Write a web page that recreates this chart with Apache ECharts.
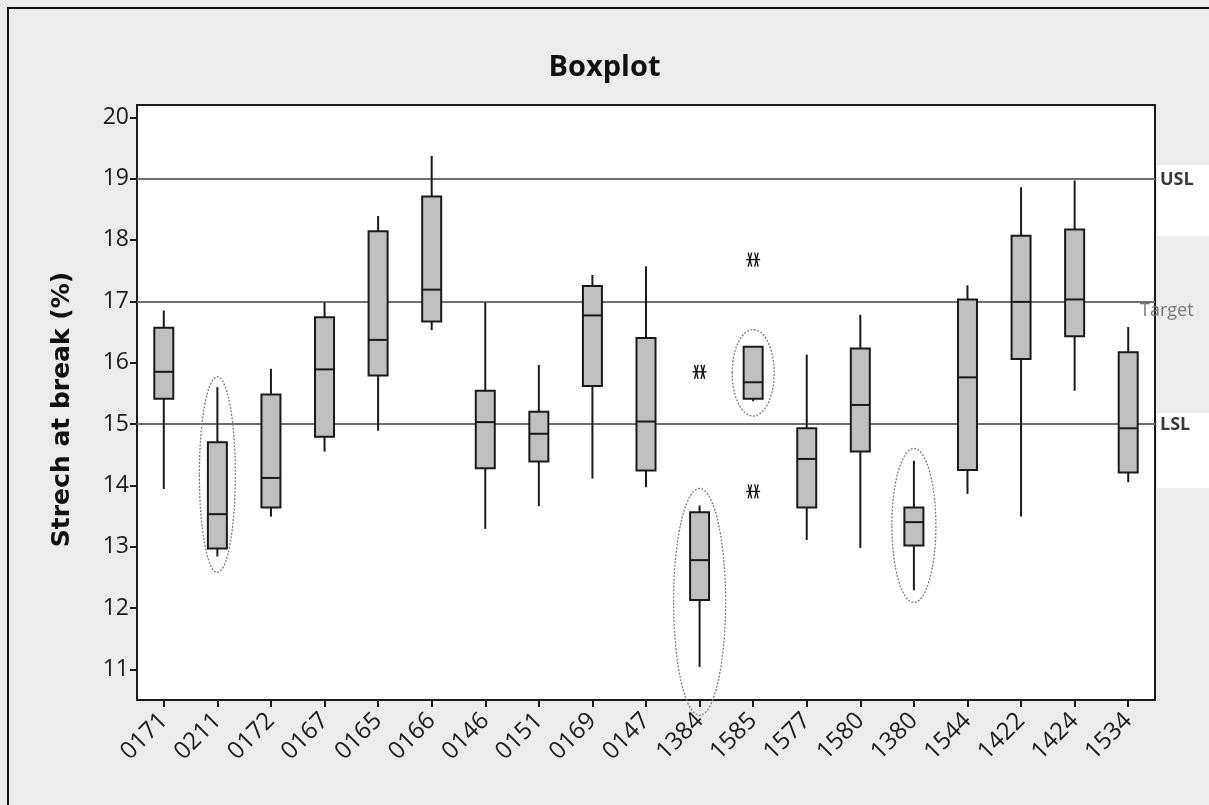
<!DOCTYPE html>
<html>
<head>
<meta charset="UTF-8">
<title>Boxplot</title>
<script src="https://cdn.jsdelivr.net/npm/echarts@6/dist/echarts.min.js"></script>
<style>
html,body{margin:0;padding:0;background:#ececec;}
#chart{width:1209px;height:805px;}
</style>
</head>
<body>
<div id="chart"></div>
<script type="text/javascript">
// data
var categories = ['0171','0211','0172','0167','0165','0166','0146','0151','0169','0147',
                  '1384','1585','1577','1580','1380','1544','1422','1424','1534'];
var lowWhisker  = [13.94,12.84,13.49,14.55,14.89,16.53,13.29,13.66,14.11,13.97,11.04,15.37,13.11,12.98,12.29,13.86,13.49,15.54,14.05];
var q1          = [15.41,12.97,13.64,14.79,15.79,16.67,14.28,14.39,15.62,14.24,12.13,15.41,13.64,14.55,13.02,14.25,16.06,16.43,14.21];
var median      = [15.85,13.53,14.12,15.89,16.37,17.19,15.03,14.84,16.77,15.04,12.78,15.68,14.43,15.31,13.40,15.76,16.99,17.03,14.93];
var q3          = [16.57,14.70,15.48,16.74,18.14,18.71,15.54,15.20,17.25,16.40,13.56,16.26,14.93,16.23,13.64,17.03,18.07,18.17,16.17];
var highWhisker = [16.85,15.60,15.90,16.98,18.39,19.37,16.98,15.96,17.43,17.57,13.67,16.26,16.13,16.78,14.40,17.26,18.86,18.97,16.58];

var outlierCats   = ['1384','1585','1585'];
var outlierValues = [15.85,17.68,13.90];

var specNames  = ['USL','Target','LSL'];
var specValues = [19,17,15];

var ellipseCats = ['0211','1384','1585','1380'];
var ellipseHigh = [15.77,13.95,16.54,14.60];
var ellipseLow  = [12.58,10.25,15.13,12.09];

var yTicks = [11,12,13,14,15,16,17,18,19,20];

// build series data
var boxData = [];
for(var i=0;i<categories.length;i++){
	boxData.push([i,lowWhisker[i],q1[i],median[i],q3[i],highWhisker[i]]);
}
var outlierData = [];
for(var i=0;i<outlierCats.length;i++){
	outlierData.push([categories.indexOf(outlierCats[i]),outlierValues[i]]);
}
var ellipseData = [];
for(var i=0;i<ellipseCats.length;i++){
	ellipseData.push([categories.indexOf(ellipseCats[i]),ellipseLow[i],ellipseHigh[i]]);
}
var ellipseHalfWidth = [18,26,21,22];

var lineColor='#1a1a1a';
var tickFont='Open Sans';

function renderBox(params,api){
	var x=api.value(0);
	var pLow=api.coord([x,api.value(1)]);
	var pQ1=api.coord([x,api.value(2)]);
	var pMed=api.coord([x,api.value(3)]);
	var pQ3=api.coord([x,api.value(4)]);
	var pHigh=api.coord([x,api.value(5)]);
	var hw=9.5;
	return {
		type:'group',
		children:[
			{type:'line',shape:{x1:pLow[0],y1:pLow[1],x2:pHigh[0],y2:pHigh[1]},
			 style:{stroke:lineColor,lineWidth:2}},
			{type:'rect',shape:{x:pQ3[0]-hw,y:pQ3[1],width:hw*2,height:pQ1[1]-pQ3[1]},
			 style:{fill:'#c0c0c0',stroke:lineColor,lineWidth:2}},
			{type:'line',shape:{x1:pMed[0]-hw,y1:pMed[1],x2:pMed[0]+hw,y2:pMed[1]},
			 style:{stroke:lineColor,lineWidth:2}}
		]
	};
}

function renderOutlier(params,api){
	var p=api.coord([api.value(0),api.value(1)]);
	var st={stroke:'#111',lineWidth:1.4};
	return {
		type:'group',
		children:[
			{type:'line',shape:{x1:p[0]-7,y1:p[1],x2:p[0]+7,y2:p[1]},style:st},
			{type:'line',shape:{x1:p[0]-5,y1:p[1]-7,x2:p[0]-1.5,y2:p[1]+7},style:st},
			{type:'line',shape:{x1:p[0]+5,y1:p[1]-7,x2:p[0]+1.5,y2:p[1]+7},style:st},
			{type:'line',shape:{x1:p[0]-5,y1:p[1]+7,x2:p[0]-1.5,y2:p[1]-7},style:st},
			{type:'line',shape:{x1:p[0]+5,y1:p[1]+7,x2:p[0]+1.5,y2:p[1]-7},style:st}
		]
	};
}

function renderEllipse(params,api){
	var x=api.value(0);
	var lo=api.coord([x,api.value(1)]);
	var hi=api.coord([x,api.value(2)]);
	return {
		type:'ellipse',
		shape:{cx:lo[0],cy:(lo[1]+hi[1])/2,rx:ellipseHalfWidth[params.dataIndex],ry:(lo[1]-hi[1])/2},
		style:{fill:null,stroke:'#808080',lineWidth:1.3,lineDash:[2,1.5]}
	};
}

var specLines=[];
for(var i=0;i<specNames.length;i++){
	var isTarget = specNames[i]=='Target';
	specLines.push({
		name:specNames[i],
		yAxis:specValues[i],
		label:{
			show:true,
			position:'end',
			formatter:specNames[i],
			fontFamily:tickFont,
			fontSize:18,
			fontWeight:isTarget?'normal':'bold',
			color:isTarget?'#7a7a7a':'#3a3a3a',
			distance:isTarget?0:5,
			offset:isTarget?[-15,10]:[0,1]
		}
	});
}

var mychart=echarts.init(document.getElementById('chart'));
var option={
	backgroundColor:'#ececec',
	animation:false,
	title:{
		text:'Boxplot',
		left:'center',
		top:48,
		textStyle:{fontFamily:'Open Sans',fontWeight:'bold',fontSize:29,color:'#111'}
	},
	graphic:[
		{type:'rect',shape:{x:1157,y:165,width:52,height:71},style:{fill:'#fff'},silent:true,z:-1},
		{type:'rect',shape:{x:1157,y:413,width:52,height:75},style:{fill:'#fff'},silent:true,z:-1},
		{type:'line',shape:{x1:8,y1:7,x2:8,y2:805},style:{stroke:'#111',lineWidth:2},silent:true},
		{type:'line',shape:{x1:7,y1:8,x2:1209,y2:8},style:{stroke:'#111',lineWidth:2},silent:true}
	],
	grid:{
		left:137,right:54,top:105,bottom:105,
		show:true,
		backgroundColor:'#fff',
		borderColor:'#1a1a1a',
		borderWidth:2
	},
	xAxis:{
		type:'category',
		data:categories,
		boundaryGap:true,
		axisLine:{show:true,lineStyle:{color:'#1a1a1a',width:2}},
		axisTick:{show:true,alignWithLabel:true,length:7,lineStyle:{color:'#1a1a1a',width:2}},
		axisLabel:{rotate:45,interval:0,margin:17,fontFamily:tickFont,fontSize:24,color:'#1a1a1a'},
		splitLine:{show:false}
	},
	yAxis:{
		type:'value',
		min:10.5,
		max:20.2,
		name:'Strech at break (%)',
		nameLocation:'middle',
		nameGap:62,
		nameTextStyle:{fontFamily:'DejaVu Sans',fontWeight:'bold',fontSize:25,color:'#111',padding:[0,14,0,0]},
		axisLine:{show:true,lineStyle:{color:'#1a1a1a',width:2}},
		axisTick:{show:true,length:7,customValues:yTicks,lineStyle:{color:'#1a1a1a',width:2}},
		axisLabel:{customValues:yTicks,margin:8,fontFamily:tickFont,fontSize:23,color:'#1a1a1a'},
		splitLine:{show:false}
	},
	series:[
		{
			type:'custom',
			name:'box',
			renderItem:renderBox,
			encode:{x:0,y:[1,2,3,4,5]},
			data:boxData,
			z:3,
			markLine:{
				silent:true,
				symbol:['none','none'],
				lineStyle:{color:'#6f6f6f',width:2,type:'solid'},
				emphasis:{disabled:true},
				data:specLines,
				z:2
			}
		},
		{
			type:'custom',
			name:'outlier',
			renderItem:renderOutlier,
			encode:{x:0,y:1},
			data:outlierData,
			z:4
		},
		{
			type:'custom',
			name:'ellipse',
			renderItem:renderEllipse,
			encode:{x:0,y:[1,2]},
			clip:false,
			data:ellipseData,
			z:5
		}
	]
};
mychart.setOption(option);
</script>
</body>
</html>
